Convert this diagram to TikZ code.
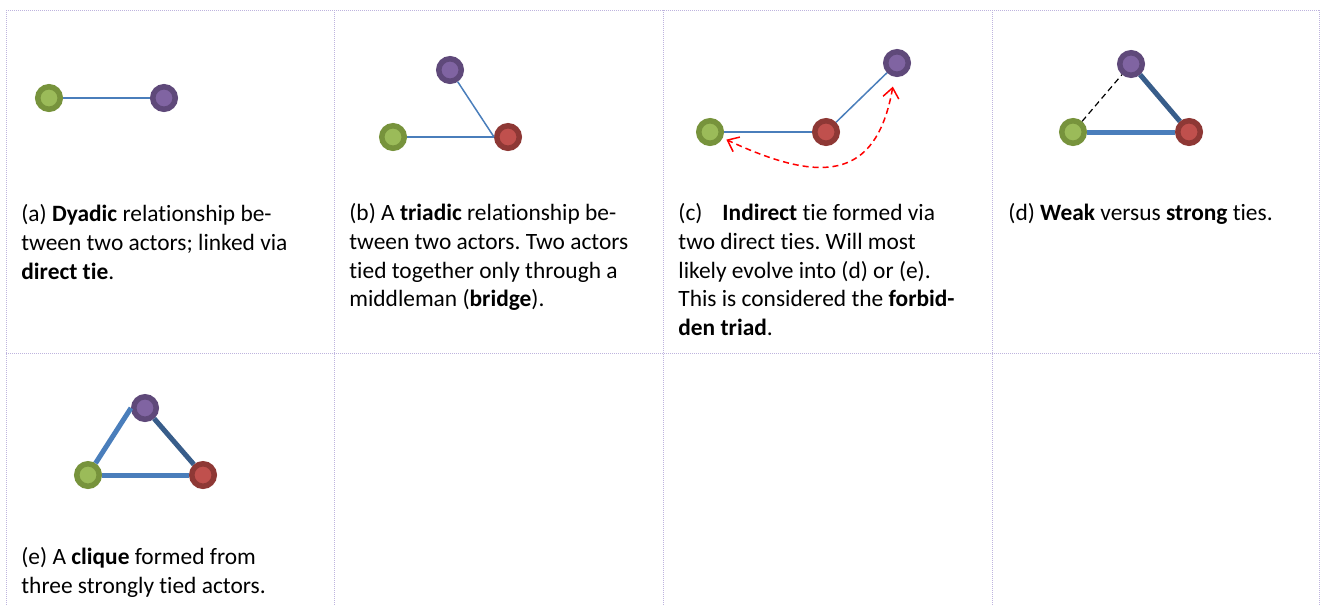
\documentclass[tikz,border=0pt]{standalone}
\usepackage{fontspec}
\setmainfont[Ligatures=NoCommon]{Carlito}
\usetikzlibrary{arrows.meta}

\definecolor{grnring}{HTML}{77933C}
\definecolor{grnfill}{HTML}{9BBB59}
\definecolor{purring}{HTML}{5F497A}
\definecolor{purfill}{HTML}{8064A2}
\definecolor{redring}{HTML}{8E3835}
\definecolor{redfill}{HTML}{C0504D}
\definecolor{tieblue}{HTML}{4A7EBB}
\definecolor{tiedark}{HTML}{385D8A}
\definecolor{gridlilac}{RGB}{190,180,222}

\frenchspacing

\begin{document}
\begin{tikzpicture}[x=0.5pt,y=-0.5pt,font=\fontsize{11.7}{14.4}\selectfont,
  actor/.style={circle,minimum size=11.25pt,inner sep=0pt,line width=2.75pt},
  greenactor/.style={actor,draw=grnring,fill=grnfill},
  purpleactor/.style={actor,draw=purring,fill=purfill},
  redactor/.style={actor,draw=redring,fill=redfill},
  tie/.style={draw=tieblue,line width=0.75pt},
  strongtie/.style={draw=tieblue,line width=2.5pt},
  darktie/.style={strongtie,draw=tiedark},
  weaktie/.style={draw=black,line width=0.6pt,dash pattern=on 3pt off 2pt},
  closure/.style={draw=red,line width=0.75pt,dash pattern=on 3pt off 2pt,
    {Straight Barb[length=5pt,width=8pt]}-{Straight Barb[length=5pt,width=8pt]}},
  caption/.style={anchor=north west,inner sep=0pt,align=left},
  cellline/.style={draw=gridlilac,line width=0.5pt,dash pattern=on 0.5pt off 0.5pt}]

\useasboundingbox (0,0) rectangle (1320,605);

% table rules
\foreach \x in {6,334,663,992,1319}
  \draw[cellline] (\x,10) -- (\x,605);
\foreach \y in {10,353}
  \draw[cellline] (6,\y) -- (1319,\y);

% (a) dyad
\node[greenactor]  (a1) at (49,98) {};
\node[purpleactor] (a2) at (164,98) {};
\draw[tie] (a1) -- (a2);
\node[caption] (capa) at (21,204)
  {(a) \textbf{Dyadic} relationship be-\\tween two actors; linked via\\\textbf{direct tie}.};

% (b) triad with a bridge
\node[greenactor]  (b1) at (393,137) {};
\node[purpleactor] (b2) at (450,70) {};
\node[redactor]    (b3) at (508,137) {};
\draw[tie] (b1) -- (b3);
\draw[tie] (b2) -- (b3.west);
\node[caption] (capb) at (349,203)
  {(b) A \textbf{triadic} relationship be-\\tween two actors. Two actors\\tied together only through a\\middleman (\textbf{bridge}).};

% (c) forbidden triad
\node[greenactor]  (c1) at (710,132) {};
\node[redactor]    (c2) at (826,132) {};
\node[purpleactor] (c3) at (897,63) {};
\draw[tie] (c1) -- (c2);
\draw[tie] (c2) -- (c3);
\draw[closure,shorten <=5pt,shorten >=2pt]
  (c3) to[out=-100,in=-25,looseness=1.5] (c1);
\node[caption] (capc) at (678,203)
  {(c)\hspace{10pt}\textbf{Indirect} tie formed via\\two direct ties. Will most\\likely evolve into (d) or (e).\\This is considered the \textbf{forbid-}\\\textbf{den triad}.};

% (d) weak and strong ties
\node[greenactor]  (d1) at (1073,132) {};
\node[purpleactor] (d2) at (1131,64) {};
\node[redactor]    (d3) at (1189,132) {};
\draw[weaktie]   (d1) -- (d2);
\draw[strongtie] (d1) -- (d3);
\draw[darktie]   (d2) -- (d3);
\node[caption] (capd) at (1008,203)
  {(d) \textbf{Weak} versus \textbf{strong} ties.};

% (e) clique
\node[greenactor]  (e1) at (88,475) {};
\node[purpleactor] (e2) at (145,408) {};
\node[redactor]    (e3) at (203,475) {};
\draw[strongtie] (e1) -- (e2.west);
\draw[strongtie] (e1) -- (e3);
\draw[darktie]   (e2) -- (e3);
\node[caption] (cape) at (21,547)
  {(e) A \textbf{clique} formed from\\three strongly tied actors.};

\end{tikzpicture}
\end{document}
